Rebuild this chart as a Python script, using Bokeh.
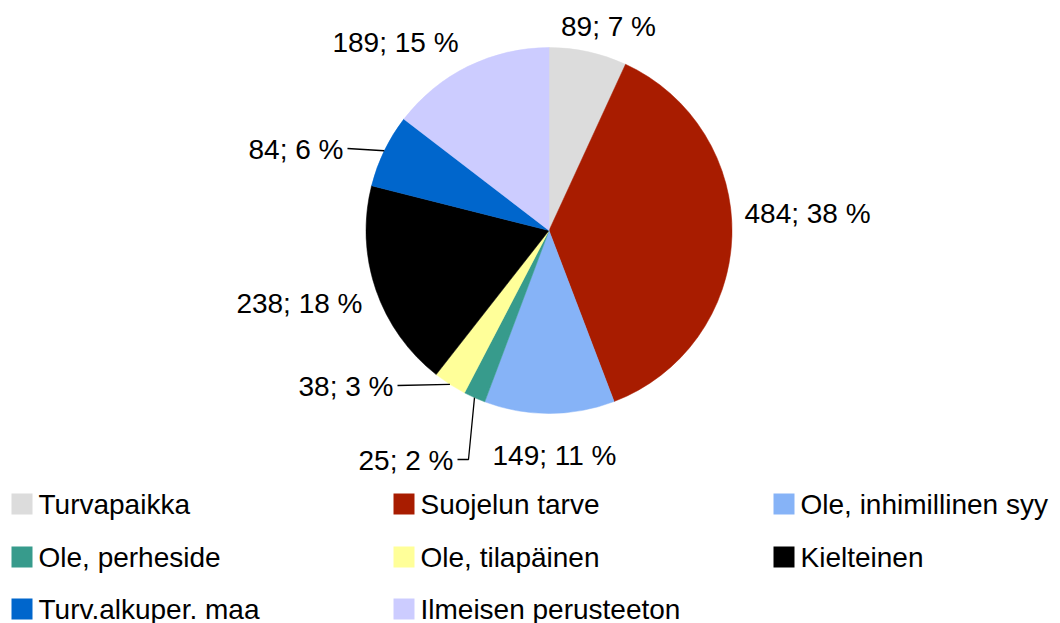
import math
from bokeh.plotting import figure
from bokeh.models import Range1d, ColumnDataSource
from bokeh.core.properties import value
from bokeh.embed import file_html
from bokeh.resources import INLINE

# ---- data ----
categories = ["Turvapaikka", "Suojelun tarve", "Ole, inhimillinen syy", "Ole, perheside",
              "Ole, tilapäinen", "Kielteinen", "Turv.alkuper. maa", "Ilmeisen perusteeton"]
counts = [89, 484, 149, 25, 38, 238, 84, 189]
percents = [7, 38, 11, 2, 3, 18, 6, 15]
colors = ["#dcdcdc", "#a81c00", "#86b3f7", "#379b8c", "#ffff99", "#000000", "#0066cc", "#ccccff"]

# ---- layout (screen pixel coordinates; y grows downward) ----
W, H = 1060, 623
CX, CY, R = 548.5, 230.0, 183.0
FONT = value("Liberation Sans")
FS = "28px"
TXT_SHIFT = 10  # renderer places alphabetic baseline lower; compensate
# label anchor: (x, baseline y, align, leader)
label_layout = [
    (608, 36, "center", None),
    (744, 223, "left", None),
    (492, 465, "left", None),
    (453, 470, "right", "elbow"),
    (393, 396, "right", "straight"),
    (362, 313, "right", None),
    (343, 159, "right", "straight"),
    (395, 52, "center", None),
]
leg_cols = [11, 393, 773]
leg_rows = [514, 567, 619]
leg_sq = 21
leg_gap = 8

p = figure(width=W, height=H, output_backend="svg", toolbar_location=None,
           x_range=Range1d(0, W), y_range=Range1d(-H, 0),
           min_border=0)
p.axis.visible = False
p.grid.visible = False
p.outline_line_color = None
p.background_fill_color = "white"
p.border_fill_color = "white"

total = float(sum(counts))
starts, ends, mids = [], [], []
acc = 0.0
for c in counts:
    f0 = acc / total
    acc += c
    f1 = acc / total
    # clockwise from 12 o'clock
    starts.append(math.pi / 2 - 2 * math.pi * f1)
    ends.append(math.pi / 2 - 2 * math.pi * f0)
    mids.append(math.pi / 2 - 2 * math.pi * (f0 + f1) / 2)

src = ColumnDataSource(dict(start=starts, end=ends, color=colors))
p.wedge(x=CX, y=-CY, radius=R, start_angle="start", end_angle="end",
        direction="anticlock", fill_color="color", line_color="color",
        line_width=0.5, source=src)

# labels
lx, ly, lt, la = [], [], [], []
for i, (x, y, al, leader) in enumerate(label_layout):
    lx.append(x); ly.append(-(y - TXT_SHIFT)); la.append(al)
    lt.append(f"{counts[i]}; {percents[i]} %")
    if leader:
        ex = CX + R * math.cos(mids[i])
        ey = -(CY) + R * math.sin(mids[i])
        sx, sy = x + 4, -(y - 11)
        if leader == "elbow":
            p.line([sx, sx + 11, ex], [sy, sy, ey], line_color="black", line_width=1.3)
        else:
            p.line([sx, ex], [sy, ey], line_color="black", line_width=1.3)
p.text(x=lx, y=ly, text=lt, text_align=la, text_baseline="alphabetic",
       text_font=FONT, text_font_size=FS, text_color="black")

# legend
qx0, qx1, qy0, qy1 = [], [], [], []
tx, ty = [], []
for i, cat in enumerate(categories):
    col = i % 3
    row = i // 3
    x0 = leg_cols[col]
    yb = leg_rows[row]
    qx0.append(x0); qx1.append(x0 + leg_sq)
    qy0.append(-yb); qy1.append(-(yb - leg_sq))
    tx.append(x0 + leg_sq + leg_gap - 2); ty.append(-(yb - TXT_SHIFT))
p.quad(left=qx0, right=qx1, bottom=qy0, top=qy1, fill_color=colors, line_color=None)
p.text(x=tx, y=ty, text=categories, text_align="left", text_baseline="alphabetic",
       text_font=FONT, text_font_size=FS, text_color="black")

open("out.html", "w").write(file_html(p, INLINE))
